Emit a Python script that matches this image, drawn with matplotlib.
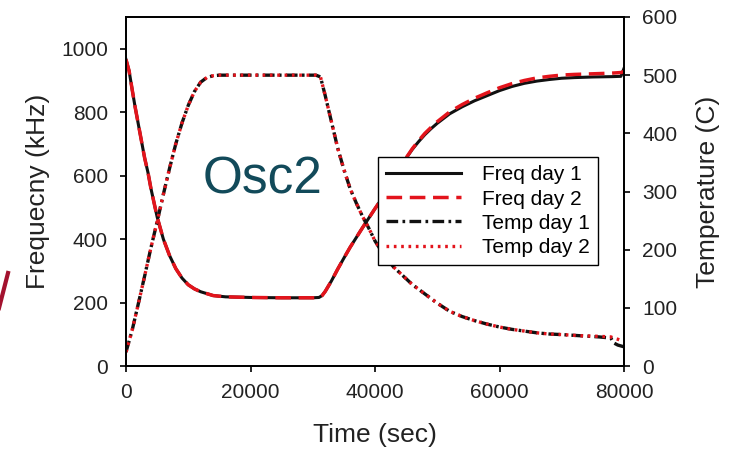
import matplotlib
matplotlib.use("Agg")
from matplotlib import pyplot as plt
from matplotlib.lines import Line2D

plt.rcParams['font.family'] = ['Liberation Sans', 'DejaVu Sans']

# frequency (kHz), left axis
t_freq = [0, 500, 1000, 1450, 2000, 3000, 3540, 4000, 5000, 6000, 7000, 8000, 9000,
          10000, 11000, 12000, 13000, 14000, 16000, 20000, 25000, 30000, 31000, 31500,
          32000, 33000, 34000, 35000, 36000, 37000, 38000, 39000, 40000, 41000, 42000,
          43000, 44000, 45000, 46000, 47000, 48000, 49000, 50000, 52000, 54000, 56000,
          58000, 60000, 62000, 64000, 66000, 68000, 70000, 72000, 75000, 78000, 79500, 80000]
freq_day1 = [966, 930, 870, 818, 760, 655, 609, 560, 470, 400, 348, 307, 277,
             256, 243, 234, 228, 222, 218, 216, 215, 215, 216, 222,
             235, 268, 305, 340, 374, 405, 436, 466, 496, 525, 555,
             590, 625, 655, 683, 707, 729, 748, 765, 795, 817, 836,
             852, 868, 881, 891, 898, 903, 907, 909, 911, 912, 913, 938]
freq_day2 = [966, 930, 870, 818, 760, 655, 609, 560, 470, 400, 348, 307, 277,
             256, 243, 234, 228, 222, 218, 216, 215, 215, 216, 222,
             235, 268, 305, 340, 374, 405, 436, 466, 496, 525, 555,
             590, 625, 656, 685, 710, 733, 752, 770, 801, 824, 844,
             861, 877, 890, 900, 908, 913, 917, 919, 921, 923, 925, 928]

# temperature (C), right axis
t_temp = [0, 1000, 2000, 3000, 4000, 5000, 6000, 7000, 8000, 9000, 10000, 11000, 12000,
          13000, 14000, 15000, 20000, 25000, 30500, 31240, 32000, 33000, 34000, 35000,
          36000, 37000, 38000, 39000, 40000, 41000, 42000, 43000, 44000, 45000, 46000,
          48000, 50000, 52000, 54000, 56000, 58000, 60000, 62000, 64000, 66000, 68000,
          70000, 73000, 76000, 77900, 78300, 79000, 80000]
temp_day1 = [24, 62, 108, 155, 203, 248, 295, 340, 382, 418, 448, 472, 488,
             496, 499, 500, 500, 500, 500, 497, 465, 420, 375, 338,
             305, 280, 257, 237, 215, 198, 183, 170, 160, 150, 140,
             124, 108, 94, 85, 78, 72, 67, 63, 60, 57, 55,
             54, 52, 50, 48, 40, 36, 33]
temp_day2 = [24, 62, 108, 155, 203, 248, 295, 340, 382, 418, 448, 472, 488,
             496, 499, 500, 500, 500, 500, 497, 465, 420, 375, 338,
             305, 280, 257, 237, 215, 198, 183, 170, 160, 150, 140,
             124, 108, 94, 85, 78, 72, 67, 63, 60, 57, 55,
             54, 52, 51, 50, 48, 46, 42]

red = '#e3141c'
black = '#111111'

fig = plt.figure(figsize=(7.31, 4.5), dpi=100)
ax = fig.add_axes([126/731, 1 - 366/450, 498/731, 349/450])
ax2 = ax.twinx()

l1, = ax.plot(t_freq, freq_day1, color=black, lw=2.2, label='Freq day 1')
l2, = ax.plot(t_freq, freq_day2, color=red, lw=2.5, dashes=(4.5, 2.2), label='Freq day 2')
l3, = ax2.plot(t_temp, temp_day1, color=black, lw=2.4, dashes=(3.5, 1.3, 0.8, 1.3), label='Temp day 1')
l4, = ax2.plot(t_temp, temp_day2, color=red, lw=2.4, dashes=(0.8, 1.4), label='Temp day 2')

ax.set_xlim(0, 80000)
ax.set_ylim(0, 1100)
ax2.set_ylim(0, 600)
ax.set_xticks([0, 20000, 40000, 60000, 80000])
ax.set_yticks([0, 200, 400, 600, 800, 1000])
ax2.set_yticks([0, 100, 200, 300, 400, 500, 600])

for a in (ax, ax2):
    for s in a.spines.values():
        s.set_color('black')
        s.set_linewidth(1.3)
    a.tick_params(direction='out', length=4, width=1.2, labelsize=15, colors='black', labelcolor='#222222')
ax.tick_params(axis='y', pad=9)
ax.tick_params(axis='x', pad=8)
ax2.tick_params(axis='y', pad=9)

ax.set_xlabel('Time (sec)', fontsize=19, color='#222222')
ax.set_ylabel('Frequecny (kHz)', fontsize=19, color='#222222')
ax2.set_ylabel('Temperature (C)', fontsize=19, color='#222222', rotation=90)
ax.xaxis.set_label_coords(0.5, -0.198)
ax.xaxis.label.set_verticalalignment('center')
ax.yaxis.set_label_coords(-0.177, 0.5)
ax.yaxis.label.set_verticalalignment('center')
ax2.yaxis.set_label_coords(1.169, 0.5)
ax2.yaxis.label.set_verticalalignment('center')

leg = ax2.legend(handles=[l1, l2, l3, l4], loc='upper left',
                 bbox_to_anchor=((378 - 126) / 498, (366 - 157) / 349),
                 fontsize=15, frameon=True, fancybox=False, framealpha=1,
                 edgecolor='black', handlelength=3.6, handletextpad=1.0,
                 labelspacing=0.25, borderpad=0.4, borderaxespad=0)
leg.get_frame().set_linewidth(1.0)

ax.text(22000, 585, 'Osc2', fontsize=37, color='#124a5a', ha='center', va='center')

# red slash from the slide on the left edge
fig.add_artist(Line2D([8 / 731, -2 / 731], [1 - 273 / 450, 1 - 312 / 450],
                      transform=fig.transFigure, color='#a3122e', lw=3))

plt.savefig('out.png', dpi=100)
